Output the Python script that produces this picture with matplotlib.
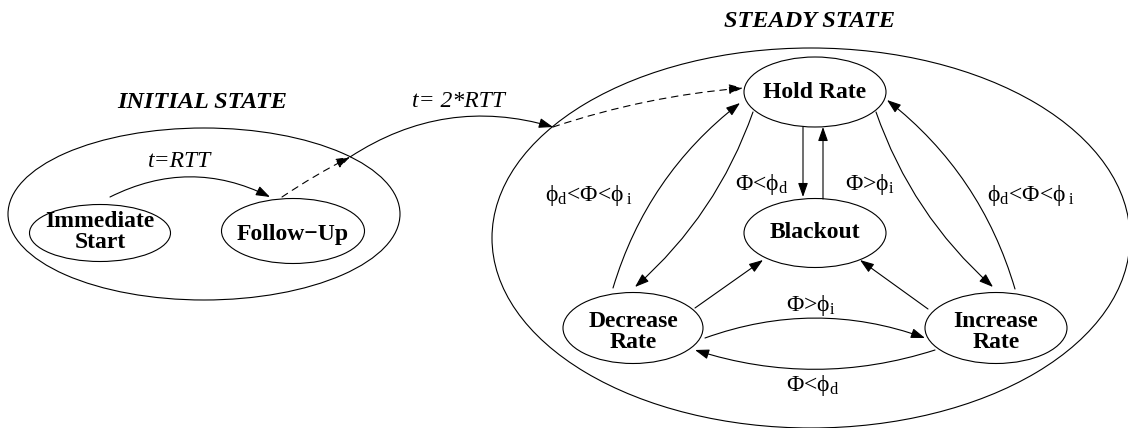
import matplotlib.pyplot as plt
from matplotlib.patches import Ellipse, FancyArrowPatch, ArrowStyle

plt.rcParams['font.family'] = ['Liberation Serif', 'DejaVu Serif']
plt.rcParams['mathtext.fontset'] = 'custom'
plt.rcParams['mathtext.rm'] = 'Liberation Serif'
plt.rcParams['mathtext.it'] = 'Liberation Serif:italic'
plt.rcParams['mathtext.bf'] = 'Liberation Serif:bold'

# states (label, centre, width, height) in pixel coords of the picture
node_labels = ["Immediate\nStart", "Follow\u2212Up", "Hold Rate", "Blackout", "Decrease\nRate", "Increase\nRate"]
node_xy = [(100, 233), (293, 231), (815, 92), (815, 233), (633, 328), (996, 328)]
node_size = [(141, 57), (143, 65), (142, 70), (142, 69), (140, 71), (142, 71)]
# baseline of the last text line
node_baseline = [248, 240, 98, 238, 348, 348]

# the two big groups
group_labels = ["INITIAL STATE", "STEADY STATE"]
group_xy = [(204, 214), (811, 238)]
group_size = [(392, 172), (638, 380)]
group_title_xy = [(202, 108), (810, 27)]

# transitions: start, end, arc bend, dashed
edges = [
    ((110, 197), (270, 197), -0.25, False),
    ((282, 197), (350, 157), -0.03, True),
    ((350, 157), (553, 127), -0.23, False),
    ((553, 127), (743, 88), -0.06, True),
    ((613, 288), (740, 103), -0.16, False),
    ((753, 112), (635, 287), -0.13, False),
    ((876, 112), (993, 287), 0.13, False),
    ((1015, 289), (887, 100), 0.16, False),
    ((803, 127), (803, 197), 0.0, False),
    ((823, 199), (823, 127), 0.0, False),
    ((695, 308), (763, 260), 0.0, False),
    ((928, 309), (860, 260), 0.0, False),
    ((705, 338), (925, 338), -0.18, False),
    ((935, 350), (695, 350), -0.16, False),
]

# transition conditions
cond_labels = [
    r"$\mathrm{\Phi}$<$\mathrm{\phi}_{\mathrm{d}}$",
    r"$\mathrm{\Phi}$>$\mathrm{\phi}_{\mathrm{i}}$",
    r"$\mathrm{\phi}_{\mathrm{d}}$<$\mathrm{\Phi}$<$\mathrm{\phi}_{\;\mathrm{i}}$",
    r"$\mathrm{\phi}_{\mathrm{d}}$<$\mathrm{\Phi}$<$\mathrm{\phi}_{\;\mathrm{i}}$",
    r"$\mathrm{\Phi}$>$\mathrm{\phi}_{\mathrm{i}}$",
    r"$\mathrm{\Phi}$<$\mathrm{\phi}_{\mathrm{d}}$",
]
cond_xy = [(762, 184), (870, 184), (589, 195), (1031, 195), (811, 305), (813, 386)]

time_labels = ["t=RTT", "t= 2*RTT"]
time_xy = [(180, 167), (458, 107)]

fig = plt.figure(figsize=(11.28, 4.28), dpi=100)
ax = fig.add_axes([0, 0, 1, 1])
ax.set_xlim(0, 1128)
ax.set_ylim(428, 0)
ax.axis('off')

lw = 0.8

for (cx, cy), (w, h) in zip(group_xy, group_size):
    ax.add_patch(Ellipse((cx, cy), w, h, fill=False, lw=lw, ec='black'))
for lab, (x, y) in zip(group_labels, group_title_xy):
    ax.text(x, y, lab, ha='center', va='baseline', fontsize=17.5,
            fontweight='bold', fontstyle='italic')

for lab, (cx, cy), (w, h), yb in zip(node_labels, node_xy, node_size, node_baseline):
    ax.add_patch(Ellipse((cx, cy), w, h, fill=False, lw=lw, ec='black'))
    ax.text(cx, yb, lab, ha='center', va='baseline', fontsize=17,
            fontweight='bold', linespacing=1.0)

head = ArrowStyle('-|>', head_length=8.5, head_width=3.0)
for p0, p1, rad, dashed in edges:
    arr = FancyArrowPatch(p0, p1, arrowstyle=head,
                          connectionstyle=f"arc3,rad={rad}",
                          shrinkA=0, shrinkB=0, lw=lw, color='black',
                          linestyle=(0, (6, 5)) if dashed else '-')
    ax.add_patch(arr)

for lab, (x, y) in zip(cond_labels, cond_xy):
    ax.text(x, y, lab, ha='center', va='center', fontsize=17)

for lab, (x, y) in zip(time_labels, time_xy):
    ax.text(x, y, lab, ha='center', va='baseline', fontsize=17, fontstyle='italic')

plt.savefig("out.png", dpi=100)
